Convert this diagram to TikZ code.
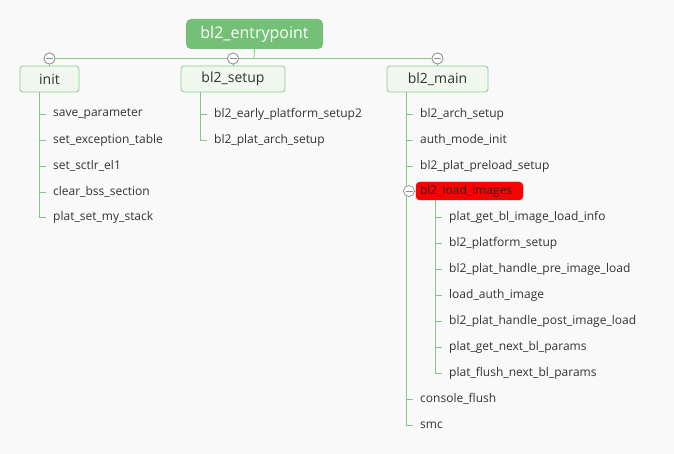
\documentclass[tikz,border=0pt]{standalone}
\usepackage{xcolor}
\usepackage{tikz}
\usepackage{fontspec}
\setmainfont{Open Sans}
\usetikzlibrary{shapes,calc}
\definecolor{rootgreen}{RGB}{116,192,118}
\definecolor{linegreen}{RGB}{130,200,132}
\definecolor{boxfill}{RGB}{240,247,238}
\definecolor{boxline}{RGB}{140,206,140}
\definecolor{knobgray}{RGB}{140,140,140}
\definecolor{textgray}{RGB}{51,51,51}
\definecolor{pagebg}{RGB}{249,249,249}

\begin{document}
\begin{tikzpicture}[
    x=1pt, y=-1pt,
    root/.style={rectangle, rounded corners=5pt, fill=rootgreen, text=white, font=\fontsize{16}{18}\selectfont, minimum width=137pt, minimum height=30pt},
    topic/.style={rectangle, rounded corners=3pt, draw=boxline, fill=boxfill, text=textgray, font=\fontsize{14}{16}\selectfont, minimum height=26pt, line width=0.8pt},
    leaf/.style={anchor=west, inner xsep=7pt, inner ysep=2pt, yshift=-1pt, text=textgray, font=\fontsize{12}{14}\selectfont},
    hot/.style={rectangle, rounded corners=4pt, draw=red!85!black, fill=red, text=black!85, font=\fontsize{12}{14}\selectfont, text width=99pt, align=left, inner xsep=4pt, inner ysep=0pt, minimum height=18pt},
    knob/.style={circle, draw=knobgray, fill=white, minimum size=11pt, inner sep=0pt, line width=0.7pt,
        path picture={\draw[knobgray, line width=0.7pt] ([xshift=2pt]path picture bounding box.west) -- ([xshift=-2pt]path picture bounding box.east);}},
    link/.style={draw=linegreen, line width=0.8pt}
]
    \useasboundingbox[fill=pagebg] (0,0) rectangle (674,454);

    % Root and main topics
    \node[root] (entry) at (254.5,34) {bl2\_entrypoint};
    \node[topic, minimum width=59pt] (init) at (49.5,79) {init};
    \node[topic, minimum width=104pt] (setup) at (233,79) {bl2\_setup};
    \node[topic, minimum width=101pt] (main) at (437.5,79) {bl2\_main};

    % init subtopics
    \node[leaf] (saveparam) at (46,113) {save\_parameter};
    \node[leaf] (exctable) at (46,139) {set\_exception\_table};
    \node[leaf] (sctlr) at (46,165) {set\_sctlr\_el1};
    \node[leaf] (clearbss) at (46,191) {clear\_bss\_section};
    \node[leaf] (mystack) at (46,216) {plat\_set\_my\_stack};

    % bl2_setup subtopics
    \node[leaf] (earlysetup) at (207,113) {bl2\_early\_platform\_setup2};
    \node[leaf] (platarch) at (207,139) {bl2\_plat\_arch\_setup};

    % bl2_main subtopics
    \node[leaf] (archsetup) at (413,113) {bl2\_arch\_setup};
    \node[leaf] (authinit) at (413,139) {auth\_mode\_init};
    \node[leaf] (prelsetup) at (413,165) {bl2\_plat\_preload\_setup};
    \node[hot] (loadimg) at (469.5,191) {bl2\_load\_images};
    \node[leaf] (getinfo) at (442,216) {plat\_get\_bl\_image\_load\_info};
    \node[leaf] (pfsetup) at (442,242) {bl2\_platform\_setup};
    \node[leaf] (handlepre) at (442,268) {bl2\_plat\_handle\_pre\_image\_load};
    \node[leaf] (authimage) at (442,294) {load\_auth\_image};
    \node[leaf] (handlepost) at (442,320) {bl2\_plat\_handle\_post\_image\_load};
    \node[leaf] (nextparams) at (442,346) {plat\_get\_next\_bl\_params};
    \node[leaf] (flushparams) at (442,372) {plat\_flush\_next\_bl\_params};
    \node[leaf] (conflush) at (413,398) {console\_flush};
    \node[leaf] (smc) at (413,424) {smc};

    % Collapse knobs
    \coordinate (bus) at (254,58.5);
    \node[knob] (kinit) at (init.north |- bus) {};
    \node[knob] (ksetup) at (setup.north |- bus) {};
    \node[knob] (kmain) at (main.north |- bus) {};

    % Branches
    \draw[link] (entry.south) -- (bus);
    \draw[link] (kinit) -- (kmain);
    \draw[link] (kinit) -- (init);
    \draw[link] (ksetup) -- (setup);
    \draw[link] (kmain) -- (main);
    \foreach \c in {saveparam,exctable,sctlr,clearbss,mystack}
        \draw[link] ([xshift=20pt]init.south west) |- (\c.west);
    \foreach \c in {earlysetup,platarch}
        \draw[link] ([xshift=20pt]setup.south west) |- (\c.west);
    \foreach \c in {archsetup,authinit,prelsetup,loadimg,conflush,smc}
        \draw[link] ([xshift=20pt]main.south west) |- (\c.west);
    \foreach \c in {getinfo,pfsetup,handlepre,authimage,handlepost,nextparams,flushparams}
        \draw[link] ([xshift=20pt]loadimg.south west) |- (\c.west);

    % Knobs drawn over the lines
    \node[knob] at (kinit) {};
    \node[knob] at (ksetup) {};
    \node[knob] at (kmain) {};
    \node[knob] (kload) at (409,191) {};
\end{tikzpicture}
\end{document}
